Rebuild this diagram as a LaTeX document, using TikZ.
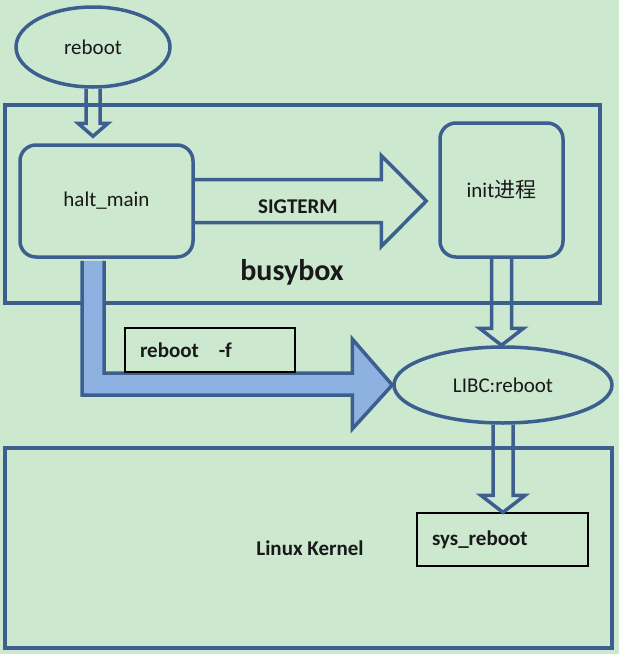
\documentclass[tikz,border=0pt]{standalone}
\usepackage{fontspec}
\setmainfont{Carlito}
\newfontfamily\cjk{Noto Sans CJK SC}
\usetikzlibrary{calc,shapes.geometric}
\definecolor{bggreen}{RGB}{204,232,207}
\definecolor{frameblue}{RGB}{61,95,143}
\definecolor{fillblue}{RGB}{141,178,226}
\definecolor{inkdark}{RGB}{25,25,25}
% hollow block arrows: #1 half shaft, #2 half head, #3 head length, #4 from, #5 tip
\newcommand{\hollowdown}[5]{%
  \draw[hollow] let \p1=(#4), \p2=(#5) in
    (\x1-#1,\y1) -- (\x1-#1,\y2+#3) -- (\x1-#2,\y2+#3) -- (\x1,\y2)
    -- (\x1+#2,\y2+#3) -- (\x1+#1,\y2+#3) -- (\x1+#1,\y1);}
\newcommand{\hollowright}[5]{%
  \draw[hollow] let \p1=(#4), \p2=(#5) in
    (\x1,\y1+#1) -- (\x2-#3,\y1+#1) -- (\x2-#3,\y1+#2) -- (\x2,\y1)
    -- (\x2-#3,\y1-#2) -- (\x2-#3,\y1-#1) -- (\x1,\y1-#1);}
\begin{document}
\begin{tikzpicture}[x=1pt, y=-1pt,
    every node/.style={font=\fontsize{21}{25}\selectfont, text=inkdark},
    frame/.style={draw=frameblue, line width=3.5pt},
    hollow/.style={draw=frameblue, line width=3.5pt, line join=miter},
    procbox/.style={frame, rounded corners=16pt},
    callbox/.style={draw=black, line width=1.2pt, fill=bggreen, inner xsep=15pt,
      align=left, font=\fontsize{21}{25}\selectfont\bfseries}]
  \fill[bggreen] (0,0) rectangle (619,654);
  \useasboundingbox (0,0) rectangle (619,654);

  % containers
  \node[frame, minimum width=595, minimum height=198] (busybox) at (302.5,204) {};
  \node[frame, minimum width=607, minimum height=200] (kernel) at (308.5,548) {};

  % processes
  \node[frame, ellipse, minimum width=154, minimum height=80, inner sep=0pt] (reboot) at (93,47) {reboot};
  \node[procbox, minimum width=173, minimum height=112] (halt) at (106.5,201) {halt\_main};
  \node[procbox, minimum width=123, minimum height=134] (init) at (501.5,190) {init{\cjk 进程}};
  \node[frame, ellipse, minimum width=218, minimum height=76, inner sep=0pt] (libc) at (503,385) {LIBC:reboot};

  % hollow arrows
  \hollowdown{7pt}{15pt}{13pt}{reboot.south}{$(reboot.south |- halt.north)+(0,-7)$}
  \hollowright{21.5pt}{45.5pt}{45pt}{halt.east}{$(init.west)+(-12,0)$}
  \hollowdown{10pt}{22pt}{17pt}{init.south}{init.south |- libc.north}

  % reboot -f path
  \fill[fillblue, draw=frameblue, line width=3.5pt, line join=miter]
    let \p1=($(reboot.south |- halt.south)+(0,2)$), \p2=(libc.west) in
    (\x1-11pt,\y1) -- (\x1-11pt,\y2-10pt) -- (\x2-40pt,\y2-10pt) -- (\x2-40pt,\y2-44pt)
    -- (\p2) -- (\x2-40pt,\y2+46pt) -- (\x2-40pt,\y2+12pt) -- (\x1+11pt,\y2+12pt)
    -- (\x1+11pt,\y1);
  \node[callbox, minimum width=170, minimum height=44, text width=140] (rebootf) at (210,350) {reboot\hspace{20pt}-f};

  % kernel call
  \node[callbox, minimum width=171, minimum height=53, text width=141] (sysreboot) at (502.5,539.5) {sys\_reboot};
  \hollowdown{10pt}{22pt}{17pt}{libc.south}{libc.south |- sysreboot.north}

  % labels
  \node[font=\fontsize{21}{25}\selectfont\bfseries] (sigterm) at (298,207) {SIGTERM};
  \node[font=\fontsize{30}{34}\selectfont\bfseries] (busyboxlabel) at (292,272) {busybox};
  \node[font=\fontsize{21}{25}\selectfont\bfseries] (kernellabel) at (310,548) {Linux Kernel};
\end{tikzpicture}
\end{document}
